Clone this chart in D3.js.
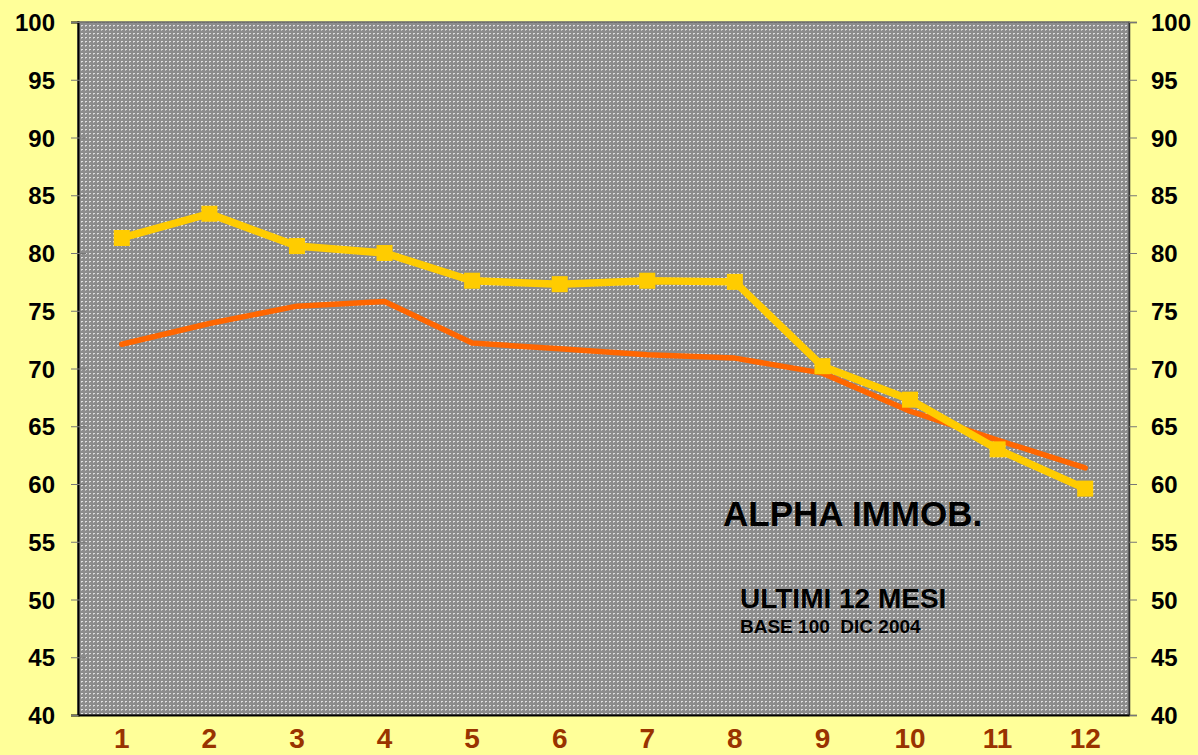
<!DOCTYPE html>
<html>
<head>
<meta charset="utf-8">
<script src="https://cdn.jsdelivr.net/npm/d3@7/dist/d3.min.js"></script>
<style>
html,body{margin:0;padding:0;background:#FFFF99;}
svg{display:block;}
text{font-family:"Liberation Sans",Arial,sans-serif;font-weight:bold;}
</style>
</head>
<body>
<svg id="chart" width="1198" height="755"></svg>
<script>
const months = ["1","2","3","4","5","6","7","8","9","10","11","12"];
const yellowSeries = [81.3,83.4,80.6,80.0,77.6,77.3,77.6,77.5,70.2,67.3,63.0,59.6];
const orangeSeries = [72.1,73.9,75.4,75.8,72.2,71.7,71.2,70.9,69.6,66.3,63.8,61.4];
const yTicks = [40,45,50,55,60,65,70,75,80,85,90,95,100];
const titleMain = "ALPHA IMMOB.";
const titleSub = "ULTIMI 12 MESI";
const titleBase = "BASE 100  DIC 2004";

const svg = d3.select("#chart");
const W = 1198, H = 755;
const m = {left:78, right:1129, top:22, bottom:715};

svg.append("rect").attr("width",W).attr("height",H).attr("fill","#FFFF99");

const defs = svg.append("defs");
const pat = defs.append("pattern").attr("id","dots").attr("patternUnits","userSpaceOnUse")
  .attr("width",4).attr("height",4);
pat.append("rect").attr("width",4).attr("height",4).attr("fill","#8c8c8c");
pat.append("rect").attr("x",1).attr("y",1).attr("width",2).attr("height",1).attr("fill","#e0e0e0");
pat.append("rect").attr("x",1).attr("y",2).attr("width",1).attr("height",1).attr("fill","#bcbcbc");

const x = d3.scaleBand().domain(months).range([m.left,m.right]);
const y = d3.scaleLinear().domain([40,100]).range([m.bottom,m.top]);

svg.append("rect").attr("x",m.left).attr("y",m.top)
  .attr("width",m.right-m.left).attr("height",m.bottom-m.top)
  .attr("fill","url(#dots)").attr("stroke","#666").attr("stroke-width",1.5);

const yl = svg.append("g").attr("transform",`translate(${m.left},0)`)
  .call(d3.axisLeft(y).tickValues(yTicks).tickSize(7).tickPadding(16).tickFormat(d3.format("d")));
yl.select(".domain").attr("stroke","#000").attr("stroke-width",2);
yl.selectAll(".tick line").attr("stroke","#777").attr("x2",8).attr("x1",-7);
yl.selectAll(".tick text").attr("font-size",24).attr("fill","#000").attr("dy","0.36em");

const yr = svg.append("g").attr("transform",`translate(${m.right},0)`)
  .call(d3.axisRight(y).tickValues(yTicks).tickSize(8).tickPadding(14).tickFormat(d3.format("d")));
yr.select(".domain").attr("stroke","#333").attr("stroke-width",1.5);
yr.selectAll(".tick line").attr("stroke","#777");
yr.selectAll(".tick text").attr("font-size",24).attr("fill","#000").attr("dy","0.36em");

const xb = svg.append("g").attr("transform",`translate(0,${m.bottom})`)
  .call(d3.axisBottom(x).tickSize(0).tickPadding(13));
xb.select(".domain").attr("stroke","#000").attr("stroke-width",2);
xb.selectAll(".tick text").attr("font-size",28).attr("fill","#993300");

const cx = d => x(d) + x.bandwidth()/2;
const line = d3.line().x((d,i)=>cx(months[i])).y(d=>y(d));

svg.append("path").datum(orangeSeries).attr("d",line)
  .attr("fill","none").attr("stroke","#FF6600").attr("stroke-width",5.5)
  .attr("stroke-linecap","round").attr("stroke-linejoin","round");

svg.append("path").datum(yellowSeries).attr("d",line)
  .attr("fill","none").attr("stroke","#FFCC00").attr("stroke-width",7.5)
  .attr("stroke-linejoin","miter");

const ms = 16;
svg.selectAll("rect.mk").data(yellowSeries).enter().append("rect").attr("class","mk")
  .attr("x",(d,i)=>cx(months[i])-ms/2).attr("y",d=>y(d)-ms/2)
  .attr("width",ms).attr("height",ms).attr("fill","#FFCC00");

svg.append("text").attr("x",723).attr("y",526).attr("font-size",35).attr("fill","#000").text(titleMain);
svg.append("text").attr("x",740).attr("y",608).attr("font-size",28).attr("fill","#000").text(titleSub);
svg.append("text").attr("x",740).attr("y",633).attr("font-size",19).attr("fill","#000")
  .attr("xml:space","preserve").style("white-space","pre").text(titleBase);
</script>
</body>
</html>
